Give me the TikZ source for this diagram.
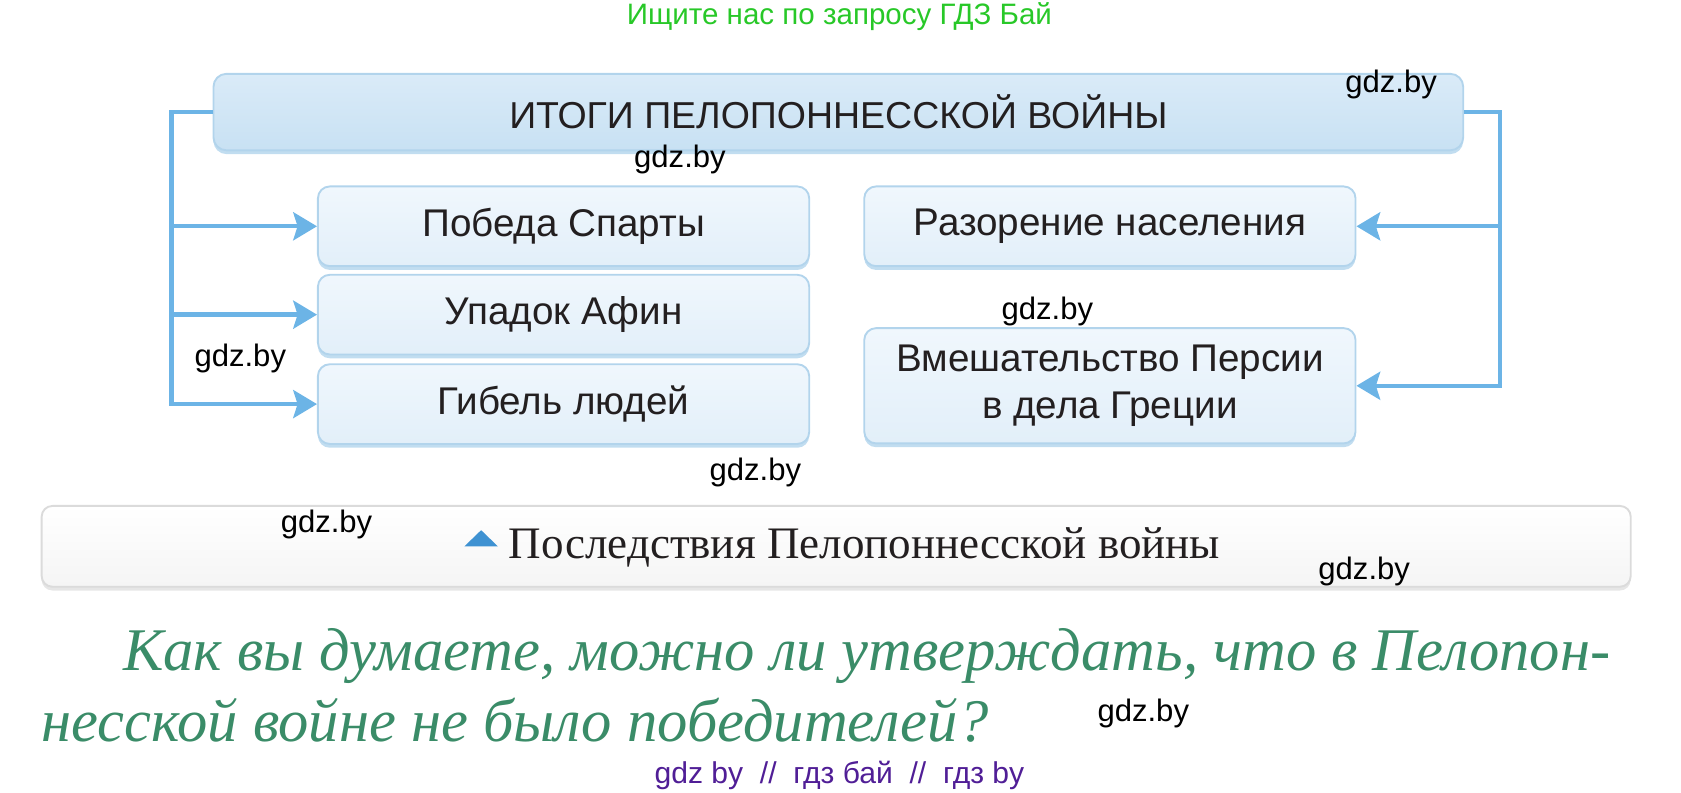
\documentclass[tikz,border=0pt]{standalone}
\usepackage{fontspec}
\setmainfont{Liberation Sans}
\newfontfamily\capfont{Liberation Serif}
\newfontfamily\askfont{Liberation Serif}
\usetikzlibrary{arrows.meta,shadows}

\definecolor{busblue}{RGB}{108,180,230}
\definecolor{boxedge}{RGB}{178,212,236}
\definecolor{boxtop}{RGB}{240,247,253}
\definecolor{boxbot}{RGB}{226,239,249}
\definecolor{headtop}{RGB}{218,235,248}
\definecolor{headbot}{RGB}{200,225,243}
\definecolor{inktext}{RGB}{35,31,32}
\definecolor{adgreen}{RGB}{40,200,40}
\definecolor{askgreen}{RGB}{58,140,104}
\definecolor{adpurple}{RGB}{80,30,150}
\definecolor{tribl}{RGB}{63,146,210}

\tikzset{
  headbox/.style={draw=boxedge, line width=1pt, rounded corners=0.24cm,
    top color=headtop, bottom color=headbot, text=inktext,
    drop shadow={shadow xshift=0pt, shadow yshift=-2pt, fill=boxedge, opacity=0.8},
    minimum width=23.2cm, minimum height=1.42cm,
    font=\fontsize{19.8pt}{24pt}\selectfont},
  itembox/.style={draw=boxedge, line width=1pt, rounded corners=0.22cm,
    top color=boxtop, bottom color=boxbot, text=inktext,
    drop shadow={shadow xshift=0pt, shadow yshift=-2pt, fill=boxedge, opacity=0.8},
    minimum width=9.12cm, minimum height=1.48cm, align=center,
    font=\fontsize{20.4pt}{25pt}\selectfont},
  bus/.style={draw=busblue, line width=2.3pt},
  tip/.style={-{Stealth[length=0.44cm, width=0.52cm, inset=0.08cm]}},
  wmark/.style={text=black, font=\fontsize{16.4pt}{18pt}\selectfont},
}

\begin{document}
\begin{tikzpicture}[x=0.02cm, y=-0.02cm]
  \useasboundingbox (0,0) rectangle (1560,735);

  % header line
  \node[text=adgreen, font=\fontsize{15.6pt}{18pt}\selectfont] (ad) at (779,15) {Ищите нас по запросу ГДЗ Бай};

  % scheme
  \node[headbox] (title) at (778,104) {ИТОГИ ПЕЛОПОННЕССКОЙ ВОЙНЫ};
  \node[itembox] (victory) at (523,210) {Победа Спарты};
  \node[itembox] (decline) at (523,292) {Упадок Афин};
  \node[itembox] (death) at (523,375) {Гибель людей};
  \node[itembox] (ruin) at (1030,210) {Разорение населения};
  \node[itembox, minimum height=2.14cm] (persia) at (1030,358)
    {Вмешательство Персии\\в дела Греции};

  \coordinate (lbus) at (159,104);
  \coordinate (rbus) at (1392,104);
  \draw[bus, tip] (title.west) -- (lbus) |- (death.west);
  \draw[bus, tip] (lbus |- victory.west) -- (victory.west);
  \draw[bus, tip] (lbus |- decline.west) -- (decline.west);
  \draw[bus, tip] (title.east) -- (rbus) |- (persia.east);
  \draw[bus, tip] (rbus |- ruin.east) -- (ruin.east);

  % caption
  \node[draw=black!14, line width=1pt, rounded corners=0.2cm,
    top color=white, bottom color=black!4,
    drop shadow={shadow xshift=0pt, shadow yshift=-2pt, fill=black!12, opacity=0.8},
    minimum width=29.5cm, minimum height=1.5cm] (capbox) at (776,507) {};
  \fill[tribl] (431,507) -- (462,507) -- (446.5,492) -- cycle;
  \node[anchor=base west, inner sep=0pt, text=inktext,
    font=\capfont\fontsize{23.8pt}{26pt}\selectfont] (caption) at (472,518)
    {Последствия Пелопоннесской войны};

  % question
  \node[anchor=base west, inner sep=0pt, text=askgreen,
    font=\askfont\itshape\fontsize{32pt}{36pt}\selectfont] (ask1) at (114,622)
    {Как вы думаете, можно ли утверждать, что в Пелопон-};
  \node[anchor=base west, inner sep=0pt, text=askgreen,
    font=\askfont\itshape\fontsize{32pt}{36pt}\selectfont] (ask2) at (38,688)
    {несской войне не было победителей?};

  % watermarks
  \node[wmark] (w1) at (1291,78) {gdz.by};
  \node[wmark] (w2) at (631,148) {gdz.by};
  \node[wmark] (w3) at (972,289) {gdz.by};
  \node[wmark] (w4) at (223,333) {gdz.by};
  \node[wmark] (w5) at (701,438) {gdz.by};
  \node[wmark] (w6) at (303,487) {gdz.by};
  \node[wmark] (w7) at (1266,530) {gdz.by};
  \node[wmark] (w8) at (1061,662) {gdz.by};
  \node[text=adpurple, font=\fontsize{15.9pt}{18pt}\selectfont] (foot) at (779,720)
    {gdz by \ // \ гдз бай \ // \ гдз by};
\end{tikzpicture}
\end{document}
